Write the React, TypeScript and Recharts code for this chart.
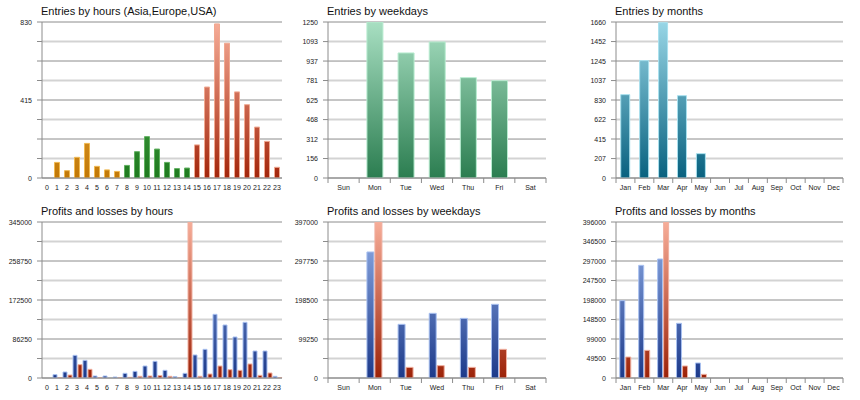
import React from 'react';
import { BarChart, Bar, XAxis, YAxis, CartesianGrid, Cell } from 'recharts';

const HOURS = ['0', '1', '2', '3', '4', '5', '6', '7', '8', '9', '10', '11', '12', '13', '14', '15', '16', '17', '18', '19', '20', '21', '22', '23'];
const HOUR_SESSION = ['asia', 'asia', 'asia', 'asia', 'asia', 'asia', 'asia', 'asia', 'europe', 'europe', 'europe', 'europe', 'europe', 'europe', 'europe', 'usa', 'usa', 'usa', 'usa', 'usa', 'usa', 'usa', 'usa', 'usa'];
const hourEntries = [0, 83, 39, 110, 184, 62, 43, 35, 67, 140, 220, 154, 83, 50, 53, 176, 484, 820, 717, 458, 390, 271, 195, 57];
const hourProfits = [0, 7400, 13300, 50100, 39000, 4400, 4400, 2200, 10300, 14700, 26500, 36900, 17000, 2900, 10300, 50900, 63400, 140800, 117200, 90700, 123100, 59700, 59700, 3700];
const hourLosses = [0, 1000, 6600, 29500, 19200, 700, 0, 300, 1500, 3700, 4400, 5200, 3700, 700, 345000, 3700, 8800, 26500, 18400, 17000, 31000, 5900, 11100, 500];

const WEEKDAYS = ['Sun', 'Mon', 'Tue', 'Wed', 'Thu', 'Fri', 'Sat'];
const weekdayEntries = [0, 1250, 1002, 1090, 804, 780, 0];
const weekdayProfits = [0, 320700, 136600, 164600, 151800, 187500, 0];
const weekdayLosses = [0, 397000, 27100, 31400, 27100, 73000, 0];

const MONTHS = ['Jan', 'Feb', 'Mar', 'Apr', 'May', 'Jun', 'Jul', 'Aug', 'Sep', 'Oct', 'Nov', 'Dec'];
const monthEntries = [887, 1249, 1653, 876, 259, 0, 0, 0, 0, 0, 0, 0];
const monthProfits = [196300, 286000, 302100, 138800, 38100, 0, 0, 0, 0, 0, 0, 0];
const monthLosses = [53300, 70200, 396000, 30500, 9300, 0, 0, 0, 0, 0, 0, 0];

const hourEntryTicks = [0, 103.75, 207.5, 311.25, 415, 518.75, 622.5, 726.25, 830];
const weekdayEntryTicks = [0, 156, 312, 468, 625, 781, 937, 1093, 1250];
const monthEntryTicks = [0, 207, 415, 622, 830, 1037, 1245, 1452, 1660];
const hourPnlTicks = [0, 43125, 86250, 129375, 172500, 215625, 258750, 301875, 345000];
const weekdayPnlTicks = [0, 49625, 99250, 148875, 198500, 248125, 297750, 347375, 397000];
const monthPnlTicks = [0, 49500, 99000, 148500, 198000, 247500, 297000, 346500, 396000];

const FONT = "'Liberation Sans', Arial, sans-serif";
const TOP = 22;
const BOTTOM = 178;
const H = 200;
const DARK = '#8c8c8c';
const LIGHT = '#d3d3d3';
const TEXT = '#1a1a1a';

const SESSION_FILL: Record<string, string> = { asia: 'url(#gOrange)', europe: 'url(#gGreen)', usa: 'url(#gRed)' };
const SESSION_STROKE: Record<string, string> = { asia: '#f0b850', europe: '#60b060', usa: '#f0a890' };

function Defs() {
  const g = (id: string, top: string, bottom: string) => (
    <linearGradient id={id} x1="0" y1={TOP} x2="0" y2={BOTTOM} gradientUnits="userSpaceOnUse">
      <stop offset="0%" stopColor={top} />
      <stop offset="100%" stopColor={bottom} />
    </linearGradient>
  );
  return (
    <defs>
      {g('gOrange', '#f5c060', '#c27806')}
      {g('gGreen', '#5cb85c', '#1f7a1f')}
      {g('gRed', '#f7ad98', '#a3260c')}
      {g('gMint', '#a8dfc2', '#2b7d50')}
      {g('gTeal', '#98d6e6', '#08617f')}
      {g('gBlue', '#94b2ea', '#1d3a8a')}
      {g('gLoss', '#f7ad98', '#9c2208')}
    </defs>
  );
}

const gridLine = (p: any) => {
  const lvl = Math.round((p.y1 - TOP) / ((BOTTOM - TOP) / 8));
  const light = lvl % 2 === 1;
  return <line key={p.key} x1={p.x1} x2={p.x2} y1={p.y1} y2={p.y2} stroke={light ? LIGHT : DARK} strokeWidth={light ? 2 : 1} />;
};

function makeXTick(n: number, plotW: number, marks: boolean) {
  const bw = plotW / n;
  return (props: any) => {
    const { x, payload, index } = props;
    return (
      <g>
        <text x={x} y={BOTTOM + 12} textAnchor="middle" fontSize={7} fill={TEXT} fontFamily={FONT}>{payload.value}</text>
        {marks && <line x1={x - bw / 2} x2={x - bw / 2} y1={BOTTOM} y2={BOTTOM + 5} stroke={DARK} />}
        {marks && index === n - 1 && <line x1={x + bw / 2} x2={x + bw / 2} y1={BOTTOM} y2={BOTTOM + 5} stroke={DARK} />}
      </g>
    );
  };
}

function makeYTick(ticks: number[], every: number, yWidth: number) {
  return (props: any) => {
    const { y, payload } = props;
    const i = ticks.indexOf(payload.value);
    if (i % every !== 0) return <g />;
    return (
      <text x={yWidth - 10} y={y + 2.5} textAnchor="end" fontSize={7} fill={TEXT} fontFamily={FONT}>{String(payload.value)}</text>
    );
  };
}

type Series = { key: string; fill: string; stroke: string; cells?: string[]; cellStrokes?: string[] };

function Panel(props: {
  left: number; top: number; width: number; yWidth: number; right: number; title: string;
  cats: string[]; values: Record<string, number[]>; ticks: number[]; every: number; series: Series[]; marks: boolean; gap: string;
}) {
  const { left, top, width, yWidth, right, title, cats, values, ticks, every, series, marks, gap } = props;
  const rows = cats.map((c, i) => {
    const r: any = { cat: c };
    Object.keys(values).forEach(k => { r[k] = values[k][i]; });
    return r;
  });
  const plotW = width - yWidth - right;
  const max = ticks[ticks.length - 1];
  return (
    <div style={{ position: 'absolute', left, top, width, height: H }}>
      <div style={{ position: 'absolute', left: yWidth - 1, top: 5, fontSize: 11, lineHeight: '13px', fontFamily: FONT, color: '#111', whiteSpace: 'nowrap' }}>{title}</div>
      <BarChart width={width} height={H} data={rows} margin={{ top: TOP, right, bottom: 2, left: 0 }} barCategoryGap={gap} barGap={1}>
        <Defs />
        <CartesianGrid vertical={false} horizontal={gridLine} />
        <XAxis dataKey="cat" interval={0} height={20} axisLine={{ stroke: DARK }} tickLine={false} tick={makeXTick(cats.length, plotW, marks)} />
        <YAxis width={yWidth} domain={[0, max]} ticks={ticks} interval={0} allowDataOverflow
          tick={makeYTick(ticks, every, yWidth)} tickSize={5} tickMargin={4}
          axisLine={{ stroke: DARK }} tickLine={{ stroke: DARK }} />
        {series.map(s => (
          <Bar key={s.key} dataKey={s.key} fill={s.fill} stroke={s.stroke} strokeWidth={1} isAnimationActive={false}>
            {s.cells && s.cells.map((c, i) => <Cell key={i} fill={c} stroke={s.cellStrokes ? s.cellStrokes[i] : s.stroke} />)}
          </Bar>
        ))}
      </BarChart>
    </div>
  );
}

export default function App() {
  const pnl = (p: number[], l: number[]) => ({ profit: p, loss: l });
  const pnlSeries: Series[] = [
    { key: 'profit', fill: 'url(#gBlue)', stroke: '#a8c0f0' },
    { key: 'loss', fill: 'url(#gLoss)', stroke: '#f0b0a0' },
  ];
  return (
    <div style={{ position: 'absolute', left: 0, top: 0, width: 860, height: 400, background: '#fff', overflow: 'hidden' }}>
      <Panel left={0} top={0} width={290} yWidth={42} right={8} title="Entries by hours (Asia,Europe,USA)"
        cats={HOURS} values={{ entries: hourEntries }} ticks={hourEntryTicks} every={4} marks={false} gap="25%"
        series={[{ key: 'entries', fill: '#c27806', stroke: '#f0b850', cells: HOUR_SESSION.map(s => SESSION_FILL[s]), cellStrokes: HOUR_SESSION.map(s => SESSION_STROKE[s]) }]} />
      <Panel left={290} top={0} width={285} yWidth={38} right={29} title="Entries by weekdays"
        cats={WEEKDAYS} values={{ entries: weekdayEntries }} ticks={weekdayEntryTicks} every={1} marks gap="25%"
        series={[{ key: 'entries', fill: 'url(#gMint)', stroke: '#b8ecd0' }]} />
      <Panel left={575} top={0} width={285} yWidth={41} right={17} title="Entries by months"
        cats={MONTHS} values={{ entries: monthEntries }} ticks={monthEntryTicks} every={1} marks gap="25%"
        series={[{ key: 'entries', fill: 'url(#gTeal)', stroke: '#a8e0ee' }]} />
      <Panel left={0} top={200} width={290} yWidth={42} right={8} title="Profits and losses by hours"
        cats={HOURS} values={pnl(hourProfits, hourLosses)} ticks={hourPnlTicks} every={2} marks={false} gap="10%"
        series={pnlSeries} />
      <Panel left={290} top={200} width={285} yWidth={38} right={29} title="Profits and losses by weekdays"
        cats={WEEKDAYS} values={pnl(weekdayProfits, weekdayLosses)} ticks={weekdayPnlTicks} every={2} marks gap="25%"
        series={pnlSeries} />
      <Panel left={575} top={200} width={285} yWidth={41} right={17} title="Profits and losses by months"
        cats={MONTHS} values={pnl(monthProfits, monthLosses)} ticks={monthPnlTicks} every={1} marks gap="20%"
        series={pnlSeries} />
    </div>
  );
}
